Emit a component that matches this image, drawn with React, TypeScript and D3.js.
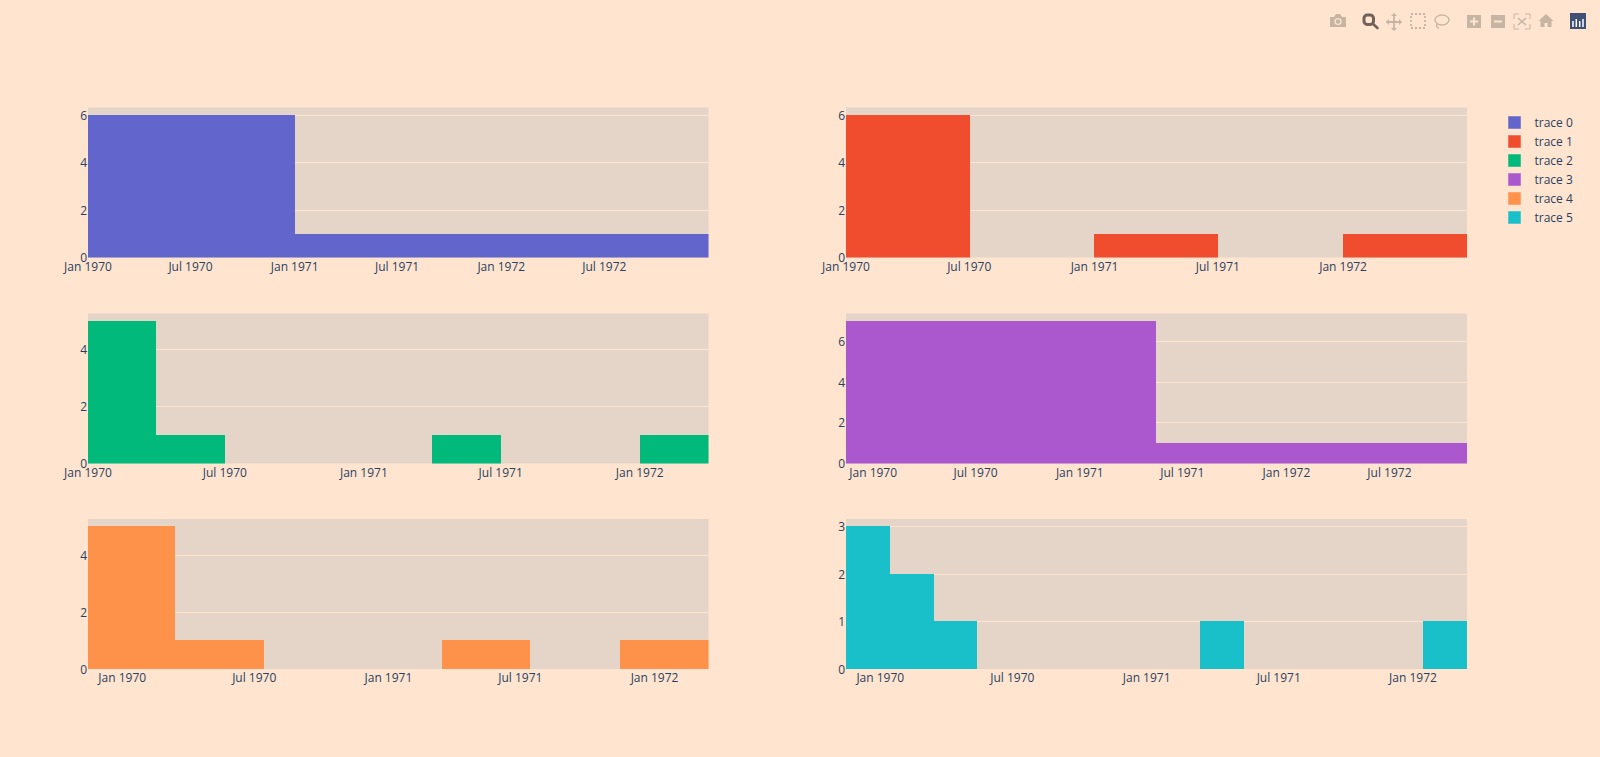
import React from "react";
import * as d3 from "d3";

const PAPER = "#FFE5D0";
const PLOT = "#E5D5C8";
const GRID = "#FFE5D0";
const INK = "#2a3f5f";
const ICON = "#C7B5A4";
const FONT = "'Open Sans', sans-serif";

const traceNames = ["trace 0", "trace 1", "trace 2", "trace 3", "trace 4", "trace 5"];
const traceColors = ["#6265CB", "#EF4D2E", "#00B97A", "#AB58CE", "#FF924B", "#19BFC9"];

const trace0Edges = ["1970-01-01", "1971-01-01", "1972-01-01", "1973-01-01"];
const trace0Counts = [6, 1, 1];
const trace1Edges = ["1970-01-01", "1970-07-02", "1970-12-31", "1971-07-01", "1972-01-01", "1972-07-01"];
const trace1Counts = [6, 0, 1, 0, 1];
const trace2Edges = ["1970-01-01", "1970-04-01", "1970-07-01", "1970-10-01", "1971-01-01", "1971-04-01", "1971-07-01", "1971-10-01", "1972-01-01", "1972-04-01"];
const trace2Counts = [5, 1, 0, 0, 0, 1, 0, 0, 1];
const trace3Edges = ["1969-11-14", "1971-05-16", "1972-11-15"];
const trace3Counts = [7, 1];
const trace4Edges = ["1969-11-15", "1970-03-15", "1970-07-14", "1970-11-15", "1971-03-15", "1971-07-14", "1971-11-14", "1972-03-15"];
const trace4Counts = [5, 1, 0, 0, 1, 0, 1];
const trace5Edges = ["1969-11-15", "1970-01-14", "1970-03-15", "1970-05-13", "1970-07-15", "1970-09-15", "1970-11-15", "1971-01-15", "1971-03-15", "1971-05-15", "1971-07-15", "1971-09-15", "1971-11-15", "1972-01-15", "1972-03-15"];
const trace5Counts = [3, 2, 1, 0, 0, 0, 0, 0, 1, 0, 0, 0, 0, 1];

const tickDates0 = ["1970-01-01", "1970-07-01", "1971-01-01", "1971-07-01", "1972-01-01", "1972-07-01"];
const tickDates1 = ["1970-01-01", "1970-07-01", "1971-01-01", "1971-07-01", "1972-01-01"];

const yTicks0 = [0, 2, 4, 6];
const yTicks2 = [0, 2, 4];
const yTicks3 = [0, 2, 4, 6];
const yTicks5 = [0, 1, 2, 3];

const edgesAll = [trace0Edges, trace1Edges, trace2Edges, trace3Edges, trace4Edges, trace5Edges];
const countsAll = [trace0Counts, trace1Counts, trace2Counts, trace3Counts, trace4Counts, trace5Counts];
const ticksAll = [tickDates0, tickDates1, tickDates1, tickDates0, tickDates1, tickDates1];
const yTicksAll = [yTicks0, yTicks0, yTicks2, yTicks3, yTicks2, yTicks5];

const COLS = [[88, 708.5], [846, 1467]];
const ROWS = [[107.5, 257.5], [313.5, 463.5], [519, 669]];
const parse = (s: string) => new Date(s + "T00:00:00Z");
const fmt = d3.utcFormat("%b %Y");

function Panel({ i }: { i: number }) {
  const [x0, x1] = COLS[i % 2];
  const [y0, y1] = ROWS[Math.floor(i / 2)];
  const edges = edgesAll[i].map(parse);
  const counts = countsAll[i];
  const x = d3.scaleUtc().domain([edges[0], edges[edges.length - 1]]).range([x0, x1]);
  const y = d3.scaleLinear().domain([0, (d3.max(counts) as number) * (20 / 19)]).range([y1, y0]);
  const labelY = Math.round(y1 + 13);
  return (
    <g>
      <rect x={x0} y={y0} width={x1 - x0} height={y1 - y0} fill={PLOT} />
      {yTicksAll[i].map((t) => (
        <g key={t}>
          {t > 0 ? <rect x={x0} y={Math.floor(y(t))} width={x1 - x0} height={1} fill={GRID} /> : null}
          <text x={x0 - 1} y={Math.floor(y(t)) + 5} textAnchor="end" fontSize={12} fill={INK} fontFamily={FONT}>{t}</text>
        </g>
      ))}
      {counts.map((c, k) => {
        if (c <= 0) return null;
        const a = k === 0 ? x0 : Math.round(x(edges[k]));
        const b = k === counts.length - 1 ? x1 : Math.round(x(edges[k + 1]));
        const top = Math.round(y(c) - 0.01);
        return <rect key={k} x={a} width={b - a} y={top} height={y1 - top} fill={traceColors[i]} />;
      })}
      {ticksAll[i].map((t) => (
        <text key={t} x={x(parse(t))} y={labelY} textAnchor="middle" fontSize={12} fill={INK} fontFamily={FONT}>{fmt(parse(t))}</text>
      ))}
    </g>
  );
}

function Modebar() {
  return (
    <g>
      <path d="M1330 17h4l2-3h4l2 3h4v10h-16z" fill={ICON} />
      <circle cx="1338" cy="21.5" r="3.6" fill={PAPER} />
      <circle cx="1338" cy="21.5" r="2.2" fill={ICON} />
      <rect x="1364" y="15" width="9.5" height="9.5" rx="3.2" fill="none" stroke="#6F6258" strokeWidth="3" />
      <path d="M1373 24l4.500 4" stroke="#6F6258" strokeWidth="2.6" strokeLinecap="round" />
      <path d="M1394 14v16M1386.500 22h15" stroke={ICON} strokeWidth="1.8" />
      <path d="M1394 13l-3 3h6zM1394 31l-3-3h6zM1386 22l3-3v6zM1402 22l-3-3v6z" fill={ICON} />
      <rect x="1411" y="14" width="14" height="14" fill="none" stroke={ICON} strokeWidth="1.8" strokeDasharray="2 2" />
      <ellipse cx="1442" cy="20" rx="7" ry="5" fill="none" stroke={ICON} strokeWidth="1.4" />
      <path d="M1437 24c-1 2 0 4 2 4" fill="none" stroke={ICON} strokeWidth="1.4" />
      <rect x="1467" y="15" width="14" height="13" fill={ICON} />
      <path d="M1470 21.5h8M1474 17.5v8" stroke={PAPER} strokeWidth="2" />
      <rect x="1491" y="15" width="14" height="13" fill={ICON} />
      <path d="M1494 21.5h8" stroke={PAPER} strokeWidth="2" />
      <path d="M1514 19v-5h5M1525 14h5v5M1530 24v5h-5M1519 29h-5v-5" fill="none" stroke={ICON} strokeWidth="1" />
      <path d="M1518 18l8 7M1526 18l-8 7" stroke={ICON} strokeWidth="1.6" />
      <path d="M1546 14l-7.500 7h2v6h4v-4h3v4h4v-6h2z" fill={ICON} />
      <rect x="1570" y="13" width="16" height="16" fill="#3F4F75" />
      <path d="M1573 21v6M1576.300 19v8M1579.700 21v6M1583 19v8" stroke="#fff" strokeWidth="1.500" />
      <path d="M1573 16.500h.1M1576.300 16.500h.1M1579.700 16.500h.1M1583 16.500h.1" stroke="#5EB5A0" strokeWidth="1.500" />
    </g>
  );
}

export default function App() {
  return (
    <svg width={1600} height={757} style={{ position: "absolute", left: 0, top: 0, display: "block" }}>
      <rect width={1600} height={757} fill={PAPER} />
      {traceNames.map((_, i) => <Panel key={i} i={i} />)}
      {traceNames.map((n, i) => (
        <g key={n}>
          <rect x={1508.5} y={116.5 + i * 19} width={12} height={12} fill={traceColors[i]} stroke={traceColors[i]} strokeOpacity={0.5} strokeWidth={1} />
          <text x={1534.5} y={126.5 + i * 19} fontSize={12} fill={INK} fontFamily={FONT}>{n}</text>
        </g>
      ))}
      <Modebar />
    </svg>
  );
}
